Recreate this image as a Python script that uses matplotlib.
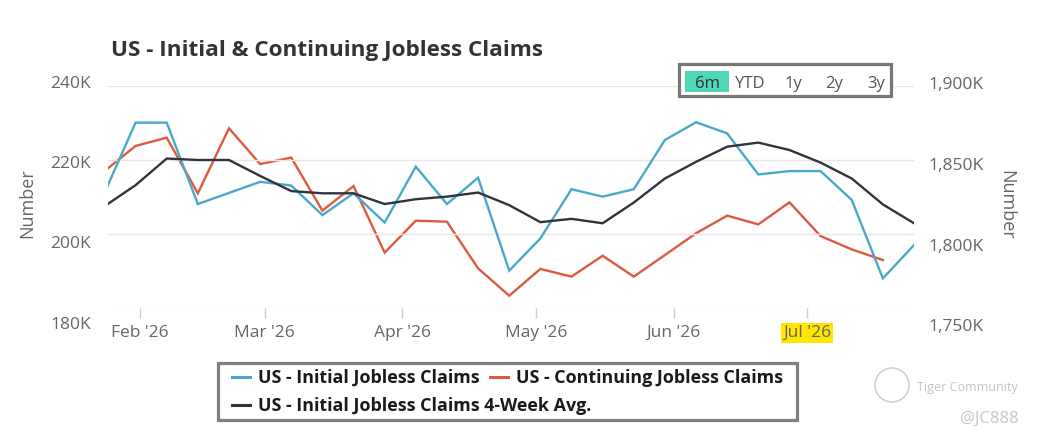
import matplotlib
matplotlib.use('Agg')
import matplotlib.pyplot as plt
import matplotlib.transforms as mtransforms
from matplotlib.patches import Rectangle, Ellipse
from matplotlib.lines import Line2D
import pandas as pd

plt.rcParams['font.family'] = ['Open Sans', 'DejaVu Sans']

# ---------------- data (thousands) ----------------
week_start = '2026-01-24'
initial_claims = [211.1, 230.1, 230.1, 208.1, 211.1, 214.1, 213.1, 205.1, 211.0, 203.1,
                  218.2, 208.1, 215.2, 190.1, 198.8, 212.1, 210.1, 212.1, 225.4, 230.2,
                  227.2, 216.1, 217.0, 217.0, 209.2, 188.0, 197.0]
continuing_claims = [1842.5, 1859.5, 1865.1, 1827.5, 1871.4, 1847.3, 1851.6, 1815.8, 1832.4,
                     1787.4, 1809.0, 1808.3, 1776.8, 1758.3, 1776.4, 1771.2, 1785.3, 1771.2,
                     1785.8, 1800.5, 1812.4, 1806.5, 1821.4, 1798.6, 1789.6, 1782.4]
avg_4week = [207.5, 213.2, 220.4, 220.0, 220.0, 215.7, 211.6, 211.0, 211.0, 208.1, 209.4,
             210.1, 211.2, 207.8, 203.2, 204.1, 202.9, 208.5, 215.0, 219.5, 223.6, 224.7,
             222.7, 219.3, 215.0, 208.0, 202.9]
left_ticks = [180, 200, 220, 240]
left_labels = ['180K', '200K', '220K', '240K']
right_ticks = [1750, 1800, 1850, 1900]
right_labels = ['1,750K', '1,800K', '1,850K', '1,900K']
month_ticks = ['2026-02-01', '2026-03-01', '2026-04-01', '2026-05-01', '2026-06-01', '2026-07-01']
month_labels = ["Feb '26", "Mar '26", "Apr '26", "May '26", "Jun '26", "Jul '26"]
range_buttons = ['6m', 'YTD', '1y', '2y', '3y']
series_names = ['US - Initial Jobless Claims', 'US - Continuing Jobless Claims',
                'US - Initial Jobless Claims 4-Week Avg.']

dates_init = pd.date_range(week_start, periods=len(initial_claims), freq='7D')
dates_cont = pd.date_range(week_start, periods=len(continuing_claims), freq='7D')

# ---------------- figure ----------------
W, H = 1039, 444
fig = plt.figure(figsize=(W / 100, H / 100), dpi=100)
fig.patch.set_facecolor('white')

def fx(px):
    return px / W

def fy(py):
    return 1 - py / H

ax = fig.add_axes([fx(108), fy(308), fx(914) - fx(108), fy(86) - fy(308)])
ax2 = ax.twinx()

BLUE = '#4AA9CB'
RED = '#DE5A3E'
DARK = '#30343E'
GREY_TXT = '#666666'

ax2.plot(dates_cont, continuing_claims, color=RED, lw=1.7, solid_joinstyle='miter')
ax.plot(dates_init, initial_claims, color=BLUE, lw=1.7, solid_joinstyle='miter')
ax.plot(dates_init, avg_4week, color=DARK, lw=1.7, solid_joinstyle='miter')
ax.set_zorder(ax2.get_zorder() + 1)
ax.patch.set_visible(False)

x0 = pd.Timestamp(week_start) + pd.Timedelta(days=0.8)
x1 = dates_init[-1]
ax.set_xlim(x0, x1)
ax.set_ylim(180, 240)
ax2.set_ylim(1750, 1900)

for a in (ax, ax2):
    for s in a.spines.values():
        s.set_visible(False)

ax.set_yticks(left_ticks)
ax.grid(axis='y', color='#e6e6e6', lw=1)
ax.tick_params(axis='y', length=0, labelleft=False)
ax2.set_yticks(right_ticks)
ax2.tick_params(axis='y', length=0, labelright=False)

mt = pd.to_datetime(month_ticks)
ax.set_xticks(mt)
ax.set_xticklabels(month_labels)
ax.tick_params(axis='x', length=10 * 0.72, width=1, color='#cccccc', pad=5,
               labelsize=12.5, labelcolor=GREY_TXT)
for lab in ax.get_xticklabels():
    if lab.get_text() == "Jul '26":
        lab.set_bbox(dict(boxstyle='square,pad=0.12', facecolor='#FFE600', edgecolor='none'))

# y tick labels (placed slightly spread as in reference)
left_off = {180: 15, 200: 8, 220: 1.7, 240: -4.3}
right_off = {1750: 17, 1800: 11, 1850: 4, 1900: -3}
cap = 6.2
for v, t in zip(left_ticks, left_labels):
    tr = mtransforms.offset_copy(ax.get_yaxis_transform(), fig=fig, x=-17,
                                 y=-(left_off[v] + cap), units='dots')
    ax.text(0, v, t, transform=tr, ha='right', va='baseline', fontsize=12.5,
            color=GREY_TXT, clip_on=False)
for v, t in zip(right_ticks, right_labels):
    tr = mtransforms.offset_copy(ax2.get_yaxis_transform(), fig=fig, x=14,
                                 y=-(right_off[v] + cap), units='dots')
    ax2.text(1, v, t, transform=tr, ha='left', va='baseline', fontsize=12.5,
             color=GREY_TXT, clip_on=False)

fig.text(fx(27), fy(203), 'Number', rotation=90, ha='center', va='center',
         fontsize=13, color=GREY_TXT)
fig.text(fx(1006), fy(205), 'Number', rotation=270, ha='center', va='center',
         fontsize=13, color=GREY_TXT)

# title
fig.text(fx(111), fy(56), 'US - Initial & Continuing Jobless Claims', ha='left',
         va='baseline', fontsize=16.2, fontweight='bold', color='#333333')

# range selector
fig.patches.append(Rectangle((fx(679), fy(96)), fx(891) - fx(679), fy(64) - fy(96),
                             transform=fig.transFigure, facecolor='white',
                             edgecolor='#777777', lw=2.3, zorder=5))
fig.patches.append(Rectangle((fx(685), fy(92)), fx(729) - fx(685), fy(71) - fy(92),
                             transform=fig.transFigure, facecolor='#4ED8B8',
                             edgecolor='none', zorder=6))
btn_x = [707, 750, 793, 834, 876]
for bx, bt in zip(btn_x, range_buttons):
    fig.text(fx(bx), fy(88), bt, ha='center', va='baseline', fontsize=12,
             color='#333333' if bt == '6m' else '#555555', zorder=7)

# legend (flow layout: two rows inside one frame)
fig.patches.append(Rectangle((fx(218), fy(420)), fx(797) - fx(218), fy(363) - fy(420),
                             transform=fig.transFigure, facecolor='white',
                             edgecolor='#808080', lw=2.3, zorder=1))
leg_kw = dict(frameon=False, prop={'weight': 'bold', 'size': 12.9},
              handlelength=1.0, handletextpad=0.45, columnspacing=0.56,
              borderpad=0, borderaxespad=0, loc='center left')
row1 = fig.legend([Line2D([], [], color=BLUE, lw=2.2), Line2D([], [], color=RED, lw=2.2)],
                  [series_names[0], series_names[1]], ncol=2,
                  bbox_to_anchor=(fx(232), fy(378)), **leg_kw)
row2 = fig.legend([Line2D([], [], color=DARK, lw=2.2)], [series_names[2]], ncol=1,
                  bbox_to_anchor=(fx(232), fy(406)), **leg_kw)
for lg in (row1, row2):
    lg.set_zorder(3)
    for t in lg.get_texts():
        t.set_color('#1a1a1a')

# watermark
fig.patches.append(Ellipse((fx(892), fy(385)), 34 / W, 34 / H, transform=fig.transFigure,
                           facecolor='none', edgecolor='#d0d0d0', lw=1.2))
fig.text(fx(917), fy(387), 'Tiger Community', ha='left', va='center', fontsize=9,
         color='#c4c4c4')
fig.text(fx(1019), fy(419), '@JC888', ha='right', va='center', fontsize=12,
         color='#c8c8c8')

fig.savefig('out.png', dpi=100, facecolor='white')
